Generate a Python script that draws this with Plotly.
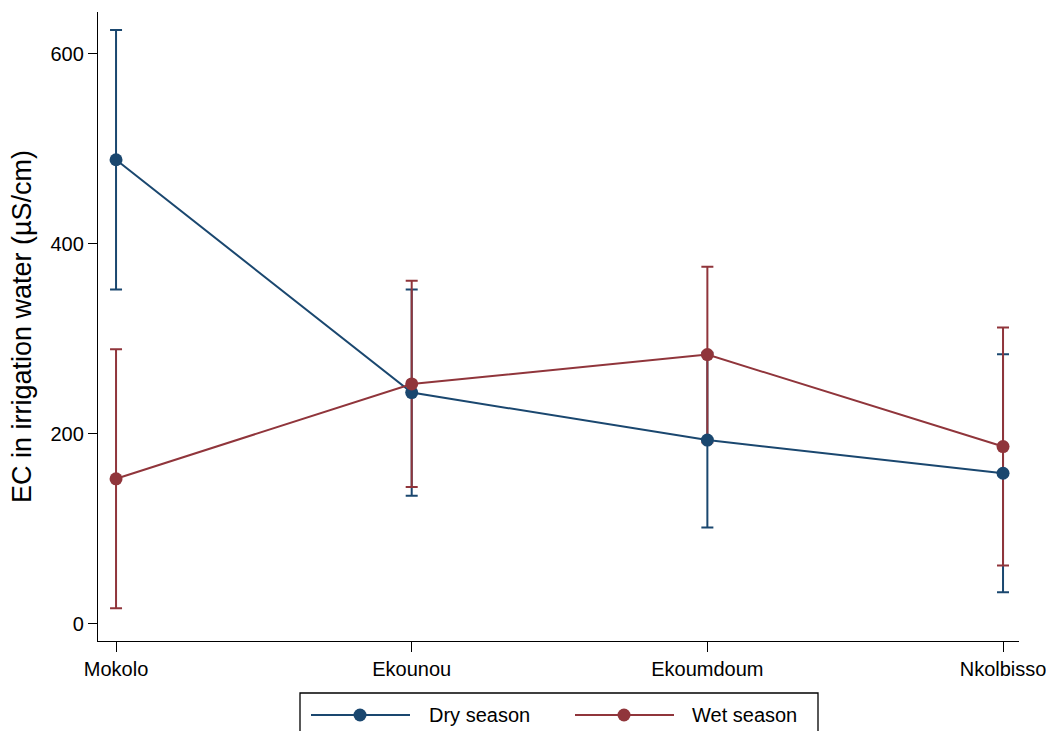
import plotly.graph_objects as go

sites = ["Mokolo", "Ekounou", "Ekoumdoum", "Nkolbisso"]
dry_mean = [488.5, 243.5, 193.5, 158.6]
dry_err = [136.5, 108.5, 92.0, 125.3]
wet_mean = [152.8, 252.6, 283.5, 186.7]
wet_err = [136.3, 108.5, 92.5, 125.2]
series_names = ["Dry season", "Wet season"]

DRY = "#1a476f"
WET = "#90353b"
FONT = "Liberation Sans, Arial, sans-serif"

W, H = 1046, 731
ML, MR, MT, MB = 98, 27, 12, 90
PW, PH = W - ML - MR, H - MT - MB


def px(x):
    return (x - ML) / PW


def py(y):
    return (H - MB - y) / PH


fig = go.Figure()
xs = list(range(len(sites)))

# error bars (drawn beneath the lines/markers)
for mean, err, col in [(dry_mean, dry_err, DRY), (wet_mean, wet_err, WET)]:
    fig.add_trace(go.Scatter(
        x=xs, y=mean, mode="markers", marker=dict(size=1, opacity=0, color=col),
        error_y=dict(type="data", array=err, visible=True, color=col, thickness=2, width=6),
        showlegend=False, hoverinfo="skip"))

for mean, col, name in [(dry_mean, DRY, series_names[0]), (wet_mean, WET, series_names[1])]:
    fig.add_trace(go.Scatter(
        x=xs, y=mean, mode="lines+markers", name=name, showlegend=False,
        line=dict(color=col, width=2), marker=dict(color=col, size=13)))

# manual legend (layout decoration)
shapes = [dict(type="rect", xref="paper", yref="paper",
               x0=px(300), x1=px(818), y0=py(693), y1=py(745),
               line=dict(color="black", width=1.3), fillcolor="white", layer="above")]
annotations = []
ly = 715
r = 6.5
for (lx0, lx1, mx, tx), col, name in [((311, 410, 360, 427), DRY, series_names[0]),
                                       ((575, 674, 624, 690), WET, series_names[1])]:
    shapes.append(dict(type="line", xref="paper", yref="paper",
                       x0=px(lx0), x1=px(lx1), y0=py(ly), y1=py(ly),
                       line=dict(color=col, width=2), layer="above"))
    shapes.append(dict(type="circle", xref="paper", yref="paper",
                       x0=px(mx - r), x1=px(mx + r), y0=py(ly + r), y1=py(ly - r),
                       line=dict(color=col, width=0), fillcolor=col, layer="above"))
    annotations.append(dict(text=name, xref="paper", yref="paper", x=px(tx), y=py(ly),
                            xanchor="left", yanchor="middle", showarrow=False,
                            font=dict(size=20, color="black", family=FONT)))

fig.update_layout(
    width=W, height=H,
    margin=dict(l=ML, r=MR, t=MT, b=MB, autoexpand=False),
    plot_bgcolor="white", paper_bgcolor="white",
    font=dict(family=FONT, size=20, color="black"),
    showlegend=False,
    shapes=shapes, annotations=annotations,
)
fig.update_xaxes(
    range=[-0.061, 3.054], tickvals=xs, ticktext=sites,
    showline=True, linecolor="black", linewidth=1.3, ticks="outside", ticklen=10,
    tickcolor="black", showgrid=False, zeroline=False, tickfont=dict(size=20),
    ticklabeloverflow="allow", automargin=False)
fig.update_yaxes(
    range=[-17.9, 644], tickvals=[0, 200, 400, 600],
    showline=True, linecolor="black", linewidth=1.3, ticks="outside", ticklen=9,
    tickcolor="black", showgrid=False, zeroline=False, tickfont=dict(size=20),
    automargin=False,
    title=dict(text="EC in irrigation water (µS/cm)", font=dict(size=27), standoff=11))

fig.write_html("out.html")
